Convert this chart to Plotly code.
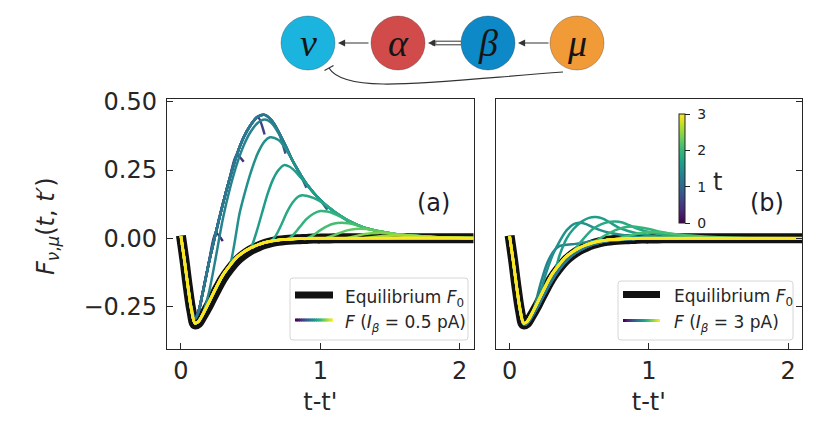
import plotly.graph_objects as go
from plotly.colors import sample_colorscale

W, H = 836, 433
OFF = 8  # the page puts the figure 8 px in from the top-left corner

# ---------------- data ----------------
T_VALUES = [0.15, 0.3, 0.45, 0.6, 0.75, 0.9, 1.05, 1.2, 1.35, 1.5,
            1.65, 1.8, 1.95, 2.1, 2.25, 2.4, 2.55, 2.7, 2.85, 3.0]
T_MAX = 3.0

TAU = [0.0, 0.025, 0.05, 0.075, 0.1, 0.125, 0.15, 0.2, 0.25, 0.3, 0.35, 0.4,
       0.45, 0.5, 0.55, 0.6, 0.65, 0.7, 0.75, 0.8, 0.85, 0.9, 0.95, 1.0,
       1.1, 1.2, 1.3, 1.4, 1.5, 1.6, 1.8, 2.1]

# equilibrium F0 (black)
F0_EQ = [0.01, -0.08, -0.18, -0.265, -0.315, -0.31, -0.29, -0.245, -0.195, -0.148,
         -0.112, -0.082, -0.06, -0.043, -0.031, -0.021, -0.014, -0.009, -0.006,
         -0.004, -0.003, -0.002, -0.001, -0.001, 0, 0, 0, 0, 0, 0, 0, 0]
# late-t response (yellow), both panels
F_BASE = [0.008, -0.08, -0.175, -0.26, -0.31, -0.305, -0.285, -0.235, -0.183, -0.135,
          -0.1, -0.07, -0.05, -0.035, -0.024, -0.015, -0.01, -0.006, -0.004,
          -0.002, -0.001, -0.001, 0, 0, 0, 0, 0, 0, 0, 0, 0, 0]
# early-t response, panel (a), I_beta = 0.5 pA
ENV_A = [0.008, -0.08, -0.175, -0.255, -0.295, -0.27, -0.215, -0.09, 0.02, 0.125,
         0.22, 0.305, 0.37, 0.415, 0.445, 0.452, 0.432, 0.39, 0.34, 0.285, 0.24,
         0.2, 0.168, 0.14, 0.097, 0.065, 0.042, 0.028, 0.019, 0.012, 0.005, 0.001]
# early-t response, panel (b), I_beta = 3 pA
ENV_B = [0.008, -0.08, -0.178, -0.263, -0.313, -0.312, -0.295, -0.252, -0.203, -0.157,
         -0.118, -0.086, -0.062, -0.045, -0.032, -0.022, -0.015, -0.01, -0.007,
         -0.005, -0.003, -0.002, -0.001, -0.001, 0, 0, 0, 0, 0, 0, 0, 0]

# end points of the short early curves in (a)
HOOK_A_T = [0.15, 0.3, 0.45, 0.6, 0.75, 0.9, 1.05, 1.2]
HOOK_A_F = [-0.22, -0.01, 0.28, 0.38, 0.31, 0.185, 0.105, 0.062]

# panel (a): curves that leave the late curve and rise to a bump
A_T135 = ([0.2, 0.25, 0.3, 0.35, 0.4, 0.45, 0.5, 0.55, 0.6, 0.65, 0.7, 0.75],
          [-0.2, -0.07, 0.07, 0.18, 0.27, 0.34, 0.39, 0.422, 0.435, 0.422, 0.385, 0.335])
A_T150 = ([0.35, 0.38, 0.42, 0.46, 0.5, 0.55, 0.6, 0.64, 0.7, 0.75, 0.8],
          [-0.1, -0.03, 0.09, 0.17, 0.24, 0.31, 0.355, 0.37, 0.36, 0.33, 0.285])
A_T165 = ([0.5, 0.54, 0.58, 0.62, 0.66, 0.7, 0.74, 0.78, 0.82, 0.86, 0.9],
          [-0.035, 0.02, 0.09, 0.16, 0.215, 0.25, 0.268, 0.262, 0.245, 0.222, 0.2])
A_T180 = ([0.64, 0.68, 0.72, 0.76, 0.8, 0.84, 0.87, 0.9, 0.95, 1.0, 1.05, 1.1],
          [-0.012, 0.01, 0.05, 0.095, 0.13, 0.152, 0.158, 0.156, 0.148, 0.135, 0.118, 0.098])
A_T195 = ([0.76, 0.8, 0.85, 0.9, 0.95, 1.0, 1.05, 1.1, 1.15, 1.2],
          [-0.004, 0.01, 0.04, 0.07, 0.09, 0.1, 0.098, 0.09, 0.078, 0.065])
A_T210 = ([0.9, 0.95, 1.0, 1.05, 1.1, 1.15, 1.2, 1.25, 1.3],
          [0.0, 0.012, 0.03, 0.045, 0.054, 0.057, 0.055, 0.05, 0.042])
A_T225 = ([1.03, 1.1, 1.15, 1.2, 1.27, 1.33, 1.4, 1.5],
          [0.0, 0.012, 0.022, 0.03, 0.035, 0.034, 0.028, 0.019])
A_T240 = ([1.17, 1.25, 1.32, 1.42, 1.5, 1.6, 1.8, 2.1],
          [0.0, 0.008, 0.016, 0.02, 0.018, 0.012, 0.005, 0.001])
A_T255 = ([1.3, 1.4, 1.55, 1.7, 1.8, 2.1],
          [0.0, 0.006, 0.011, 0.008, 0.005, 0.001])
A_T270 = ([1.45, 1.6, 1.7, 1.85, 2.1],
          [0.0, 0.004, 0.006, 0.004, 0.001])

# panel (b): small bumps
B_T135 = ([0.17, 0.22, 0.27, 0.32, 0.36, 0.4, 0.45, 0.5, 0.55, 0.6],
          [-0.265, -0.17, -0.09, -0.045, -0.028, -0.024, -0.022, -0.018, -0.014, -0.01])
B_T150 = ([0.2, 0.26, 0.31, 0.36, 0.41, 0.46, 0.5, 0.55, 0.6, 0.65, 0.7, 0.8, 0.9, 1.0, 1.2],
          [-0.235, -0.13, -0.06, -0.01, 0.03, 0.052, 0.057, 0.052, 0.04, 0.03, 0.022,
           0.013, 0.007, 0.004, 0.001])
B_T165 = ([0.33, 0.36, 0.41, 0.46, 0.52, 0.57, 0.62, 0.67, 0.72, 0.78, 0.85, 0.95, 1.05, 1.2, 1.4],
          [-0.11, -0.06, 0.0, 0.035, 0.062, 0.075, 0.078, 0.072, 0.058, 0.04, 0.027,
           0.015, 0.008, 0.003, 0.001])
B_T180 = ([0.45, 0.5, 0.55, 0.6, 0.66, 0.71, 0.76, 0.81, 0.86, 0.92, 1.0, 1.1, 1.2, 1.4],
          [-0.05, -0.02, 0.01, 0.035, 0.052, 0.06, 0.062, 0.058, 0.048, 0.035, 0.023,
           0.013, 0.007, 0.002])
B_T195 = ([0.6, 0.65, 0.7, 0.76, 0.82, 0.88, 0.94, 1.0, 1.1, 1.2, 1.35, 1.6],
          [-0.015, 0.0, 0.015, 0.03, 0.04, 0.043, 0.04, 0.034, 0.022, 0.013, 0.006, 0.001])
B_T210 = ([0.75, 0.82, 0.9, 0.98, 1.05, 1.15, 1.3, 1.5, 1.8],
          [-0.004, 0.005, 0.015, 0.022, 0.023, 0.018, 0.01, 0.004, 0.001])

Y_TICKS = [-0.25, 0.0, 0.25, 0.5]
Y_TICK_TEXT = ["\u22120.25", "0.00", "0.25", "0.50"]
X_TICKS = [0, 1, 2]
CB_TICKS = [0, 1, 2, 3]
CB_TICK_TEXT = ["\u00a00", "\u00a01", "\u00a02", "\u00a03"]


def px(x):
    return (x - OFF) / W


def py(y):
    return 1 - (y - OFF) / H


def assemble(t, head, mid=None, tail=None):
    xs, ys = [], []
    first = mid[0][0] if mid else 99
    last = mid[0][-1] if mid else 99
    for a, b in zip(TAU, head):
        if a < first - 1e-9:
            xs.append(a)
            ys.append(b)
    if mid:
        xs += mid[0]
        ys += mid[1]
        if tail is not None:
            for a, b in zip(TAU, tail):
                if a > last + 1e-9:
                    xs.append(a)
                    ys.append(b)
    keep = [(a, b) for a, b in zip(xs, ys) if a <= t + 1e-9]
    return [k[0] for k in keep], [k[1] for k in keep]


curves_a, curves_b = [], []
bumps_a = {1.35: A_T135, 1.5: A_T150, 1.65: A_T165, 1.8: A_T180, 1.95: A_T195,
           2.1: A_T210, 2.25: A_T225, 2.4: A_T240, 2.55: A_T255, 2.7: A_T270}
bumps_b = {1.35: B_T135, 1.5: B_T150, 1.65: B_T165, 1.8: B_T180, 1.95: B_T195,
           2.1: B_T210}
for t in T_VALUES:
    if t in HOOK_A_T:
        i = HOOK_A_T.index(t)
        curves_a.append((t, assemble(t, ENV_A, ([t], [HOOK_A_F[i]]))))
    elif t in bumps_a:
        curves_a.append((t, assemble(t, F_BASE, bumps_a[t], ENV_A)))
    else:
        curves_a.append((t, assemble(t, F_BASE)))
    if t <= 1.2:
        curves_b.append((t, assemble(t, ENV_B)))
    elif t in bumps_b:
        curves_b.append((t, assemble(t, F_BASE, bumps_b[t], F_BASE)))
    else:
        curves_b.append((t, assemble(t, F_BASE)))

fig = go.Figure()

for xa, ya, curves in (("x", "y", curves_a), ("x2", "y2", curves_b)):
    fig.add_trace(go.Scatter(x=TAU, y=F0_EQ, mode="lines", xaxis=xa, yaxis=ya,
                             line=dict(color="#111111", width=10, shape="spline"),
                             showlegend=False, hoverinfo="skip"))
    for t, (xs, ys) in curves:
        c = sample_colorscale("Viridis", [t / T_MAX])[0]
        fig.add_trace(go.Scatter(x=xs, y=ys, mode="lines", xaxis=xa, yaxis=ya,
                                 line=dict(color=c, width=2.5 if t < 2.9 else 3,
                                           shape="spline", smoothing=0.8),
                                 showlegend=False, hoverinfo="skip"))

# colorbar for t
fig.add_trace(go.Scatter(
    x=[-5], y=[0], mode="markers", xaxis="x2", yaxis="y2", showlegend=False,
    hoverinfo="skip",
    marker=dict(color=[0], colorscale="Viridis", cmin=0, cmax=T_MAX, showscale=True,
                colorbar=dict(x=px(679), xanchor="left", xpad=0, ypad=0,
                              y=py(168.5), yanchor="middle", len=109 / H,
                              lenmode="fraction", thickness=6,
                              outlinewidth=1, outlinecolor="#222",
                              tickvals=CB_TICKS, ticktext=CB_TICK_TEXT,
                              ticks="outside", ticklen=5, tickcolor="#222",
                              tickfont=dict(family="DejaVu Sans", size=14, color="#222")))))

FONT = "DejaVu Sans"
axis_common = dict(showgrid=False, zeroline=False, showline=True, mirror=True,
                   linecolor="#262626", linewidth=1.4, ticks="inside", ticklen=6,
                   tickwidth=1.2, tickcolor="#262626", automargin=False,
                   tickfont=dict(family=FONT, size=24, color="#262626"))
ydom = [py(349), py(99)]
fig.update_layout(
    width=W, height=H, margin=dict(l=0, r=0, t=0, b=0, autoexpand=False),
    paper_bgcolor="white", plot_bgcolor="white", showlegend=False,
    xaxis=dict(domain=[px(167), px(473.7)], range=[-0.1, 2.1], tickvals=X_TICKS,
               anchor="y", title=dict(text="t-t'", standoff=9,
                                      font=dict(family=FONT, size=24, color="#262626")),
               **axis_common),
    yaxis=dict(domain=ydom, range=[-0.405, 0.51], tickvals=Y_TICKS,
               ticktext=Y_TICK_TEXT, anchor="x", ticklabelstandoff=4, **axis_common),
    xaxis2=dict(domain=[px(495.7), px(802)], range=[-0.1, 2.1], tickvals=X_TICKS,
                anchor="y2", title=dict(text="t-t'", standoff=9,
                                        font=dict(family=FONT, size=24, color="#262626")),
                **axis_common),
    yaxis2=dict(domain=ydom, range=[-0.405, 0.51], tickvals=Y_TICKS, anchor="x2",
                side="right", showticklabels=False, **axis_common),
)

shapes, annos = [], []


def label(x, y, text, size, **kw):
    d = dict(x=px(x), y=py(y), xref="paper", yref="paper", showarrow=False,
             xanchor="center", yanchor="middle", text=text,
             font=dict(family=kw.pop("family", FONT), size=size,
                       color=kw.pop("color", "#262626")))
    d.update(kw)
    annos.append(d)


# y-axis label and panel tags
label(47, 226, "<i>F</i><sub><i>\u03bd</i>,<i>\u03bc</i></sub>(<i>t</i>, <i>t\u2032</i>)",
      24, textangle=-90)
label(433, 203, "(a)", 24, color="#1c1c2c")
label(767, 203, "(b)", 24, color="#1c1c2c")
label(717, 182, "t", 24)


def rounded_box(x0, y0, x1, y1, r=3):
    return (f"M {px(x0 + r)},{py(y0)} L {px(x1 - r)},{py(y0)} "
            f"Q {px(x1)},{py(y0)} {px(x1)},{py(y0 + r)} L {px(x1)},{py(y1 - r)} "
            f"Q {px(x1)},{py(y1)} {px(x1 - r)},{py(y1)} L {px(x0 + r)},{py(y1)} "
            f"Q {px(x0)},{py(y1)} {px(x0)},{py(y1 - r)} L {px(x0)},{py(y0 + r)} "
            f"Q {px(x0)},{py(y0)} {px(x0 + r)},{py(y0)} Z")


legends = [
    (290, 468, 278, 340, 295, 333, 343, 295, 320, "0.5"),
    (618, 793, 281, 340, 623, 660, 672, 294.5, 320.5, "3"),
]
for bx0, bx1, by0, by1, sx0, sx1, tx, yk, yf, cur in legends:
    shapes.append(dict(type="path", path=rounded_box(bx0, by0, bx1, by1),
                       xref="paper", yref="paper", fillcolor="rgba(255,255,255,0.85)",
                       line=dict(color="#d6d6d6", width=1), layer="above"))
    shapes.append(dict(type="line", xref="paper", yref="paper", x0=px(sx0), x1=px(sx1),
                       y0=py(yk), y1=py(yk), line=dict(color="#111", width=7),
                       layer="above"))
    nseg = 20
    seg_cols = sample_colorscale("Viridis", [i / (nseg - 1) for i in range(nseg)])
    step = (sx1 - sx0) / nseg
    for i in range(nseg):
        a = sx0 + step * i
        b = min(a + step + 1.0, sx1)
        shapes.append(dict(type="line", xref="paper", yref="paper", x0=px(a), x1=px(b),
                           y0=py(yf), y1=py(yf), line=dict(color=seg_cols[i], width=3),
                           layer="above"))
    label(tx, yk + 3, "Equilibrium <i>F</i><sub>0</sub>", 17, xanchor="left")
    label(tx, yf + 3, f"<i>F</i> (<i>I</i><sub><i>\u03b2</i></sub> = {cur} pA)", 17,
          xanchor="left")

# network diagram on top
nodes = [("\u03bd", 308, "#1ab4df"), ("\u03b1", 398, "#d14b4b"),
         ("\u03b2", 488, "#0d89c7"), ("\u03bc", 577, "#f09a38")]
R, CY = 27, 43
for letter, cx, col in nodes:
    shapes.append(dict(type="circle", xref="paper", yref="paper",
                       x0=px(cx - R), x1=px(cx + R), y0=py(CY + R), y1=py(CY - R),
                       fillcolor=col, line=dict(color="rgba(0,0,0,0.25)", width=1)))
    label(cx, CY, f"<i>{letter}</i>", 38, family="Liberation Serif", color="#151515")

for head, tail in ((338, 370), (518, 550)):
    annos.append(dict(x=px(head), y=py(CY), ax=tail - head, ay=0, xref="paper",
                      yref="paper", text="", showarrow=True, arrowhead=2, arrowsize=1.3,
                      arrowwidth=1.1, arrowcolor="#333", standoff=0))
annos.append(dict(x=px(428), y=py(CY), ax=10, ay=0, xref="paper", yref="paper", text="",
                  showarrow=True, arrowhead=2, arrowsize=1.3, arrowwidth=1.1,
                  arrowcolor="#333", standoff=0))
for dy in (-1.8, 1.8):
    shapes.append(dict(type="line", xref="paper", yref="paper", x0=px(432), x1=px(461),
                       y0=py(CY + dy), y1=py(CY + dy), line=dict(color="#333", width=1)))

shapes.append(dict(type="path", xref="paper", yref="paper",
                   path=(f"M {px(563)},{py(72)} C {px(430)},{py(82)} "
                         f"{px(345)},{py(95)} {px(329)},{py(68)}"),
                   line=dict(color="#333", width=1.2)))
shapes.append(dict(type="line", xref="paper", yref="paper", x0=px(324.5), x1=px(333.5),
                   y0=py(70.5), y1=py(65.5), line=dict(color="#333", width=1.2)))

fig.update_layout(shapes=shapes, annotations=annos)
fig.write_html("out.html")
